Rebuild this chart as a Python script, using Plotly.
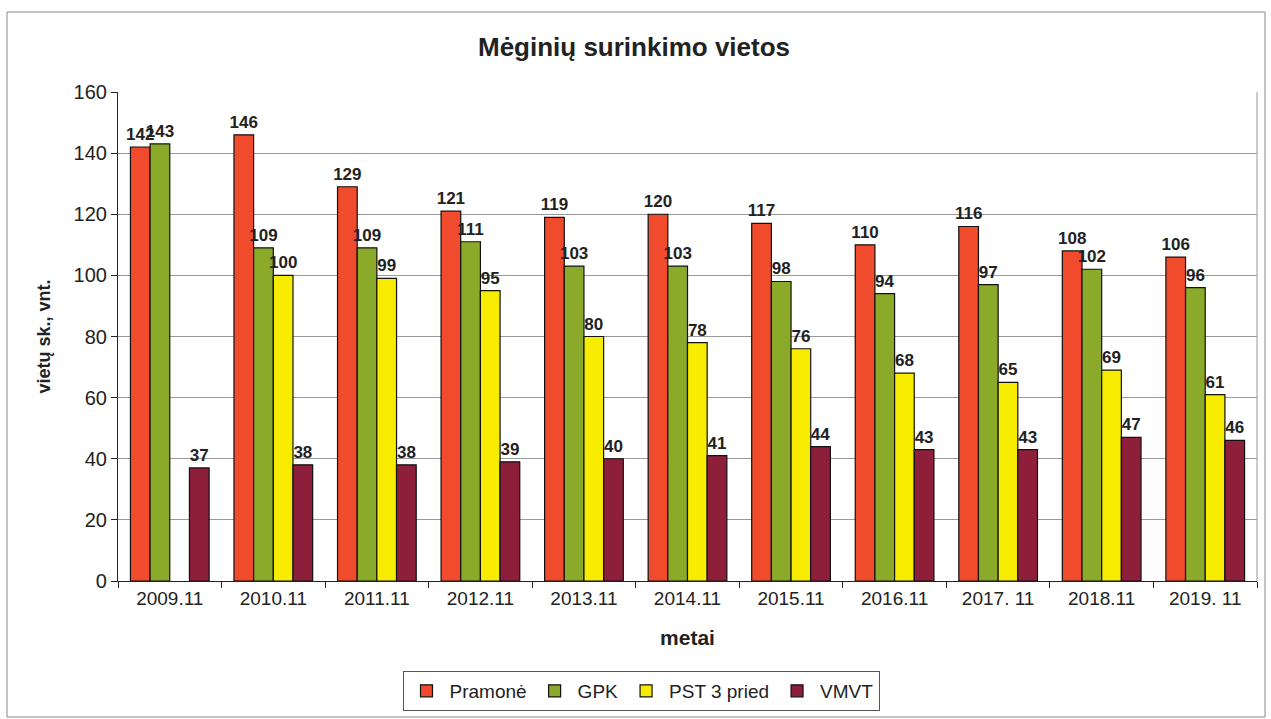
import plotly.graph_objects as go

categories = ["2009.11", "2010.11", "2011.11", "2012.11", "2013.11", "2014.11",
              "2015.11", "2016.11", "2017. 11", "2018.11", "2019. 11"]
pramone = [142, 146, 129, 121, 119, 120, 117, 110, 116, 108, 106]
gpk = [143, 109, 109, 111, 103, 103, 98, 94, 97, 102, 96]
pst = [None, 100, 99, 95, 80, 78, 76, 68, 65, 69, 61]
vmvt = [37, 38, 38, 39, 40, 41, 44, 43, 43, 47, 46]

series = [
    ("Pramonė", pramone, "#F04B2C"),
    ("GPK", gpk, "#8BAA2A"),
    ("PST 3 pried", pst, "#F7EC00"),
    ("VMVT", vmvt, "#8E1F3B"),
]

L, R, T, B = 118, 14, 92, 138
W, H = 1271, 719
pw, ph = W - L - R, H - T - B

def px(x):
    return (x - L) / pw

def py(y):
    return (H - B - y) / ph

fig = go.Figure()
for name, vals, col in series:
    fig.add_trace(go.Bar(
        x=categories, y=vals, name=name,
        marker=dict(color=col, line=dict(color="#111111", width=1.2)),
        text=[("" if v is None else str(v)) for v in vals],
        textposition="outside", cliponaxis=False, textangle=0,
        constraintext="none",
        textfont=dict(family="Liberation Sans, Arial", size=17, color="#222222", weight="bold"),
    ))

fig.update_layout(
    width=W, height=H,
    paper_bgcolor="white", plot_bgcolor="white",
    barmode="group", bargap=0.24, bargroupgap=0,
    margin=dict(l=L, r=R, t=T, b=B, autoexpand=False),
    font=dict(family="Liberation Sans, Arial", size=18, color="#222222"),
    title=dict(text="<b>Mėginių surinkimo vietos</b>", x=px(634), xanchor="center",
               y=1 - 47 / H, yanchor="middle", xref="paper",
               font=dict(size=26, color="#222222")),
    legend=dict(orientation="h", x=px(641), xanchor="center", y=py(671), yanchor="top",
                bordercolor="#555555", borderwidth=1, font=dict(size=19),
                itemwidth=36, traceorder="normal"),
    shapes=[dict(type="rect", xref="paper", yref="paper", x0=px(7), x1=px(1265),
                 y0=py(717), y1=py(12), line=dict(color="#888888", width=1))],
)
fig.update_xaxes(
    title=dict(text="<b>metai</b>", font=dict(size=21), standoff=22),
    showline=True, linecolor="#222222", linewidth=1.2,
    ticks="outside", tickson="boundaries", ticklen=6, tickcolor="#222222",
    tickfont=dict(size=19), mirror=False,
)
fig.update_yaxes(
    title=dict(text="<b>vietų sk., vnt.</b>", font=dict(size=18), standoff=18),
    range=[0, 160], dtick=20,
    showline=True, linecolor="#222222", linewidth=1.2,
    ticks="outside", ticklen=6, tickcolor="#222222",
    showgrid=True, gridcolor="#9a9a9a", gridwidth=1,
    tickfont=dict(size=20), zeroline=False,
)
fig.add_shape(type="line", xref="paper", yref="paper", x0=1, x1=1, y0=0, y1=1,
              line=dict(color="#9a9a9a", width=1))

fig.write_html("out.html", config={"displayModeBar": False},
               post_script="document.body.style.margin='0';")
